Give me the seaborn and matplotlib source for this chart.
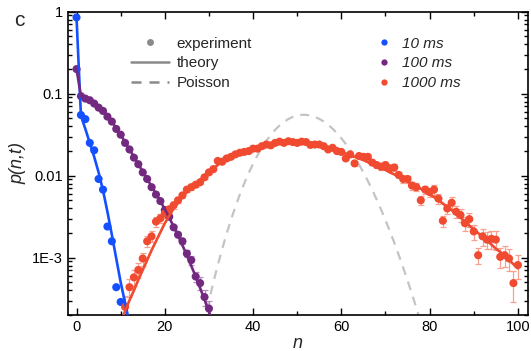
import matplotlib
matplotlib.use("Agg")
import matplotlib.pyplot as plt
import matplotlib.ticker as mticker
from matplotlib.lines import Line2D
import seaborn as sns
import numpy as np
import pandas as pd

# all values are log10 p(n,t)

# 10 ms
n_10 = list(range(0, 11))
exp_10 = [-0.07, -1.26, -1.31, -1.60, -1.69, -2.04, -2.17, -2.62, -2.80, -3.36, -3.54]
n_10_th = list(range(0, 13))
th_10 = [-0.07, -1.27, -1.43, -1.60, -1.77, -1.96, -2.18, -2.44, -2.72, -3.01, -3.30, -3.55, -3.80]

# 100 ms
n_100 = list(range(0, 31))
exp_100 = [-0.70, -1.03, -1.06, -1.08, -1.12, -1.17, -1.21, -1.28, -1.34, -1.43,
           -1.50, -1.60, -1.68, -1.78, -1.86, -1.96, -2.04, -2.14, -2.23, -2.31,
           -2.42, -2.50, -2.63, -2.72, -2.80, -2.95, -3.03, -3.23, -3.31, -3.48,
           -3.62]
err_100 = [0.02] * 20 + [0.03, 0.04, 0.05, 0.06, 0.08, 0.10, 0.12, 0.15, 0.18, 0.22, 0.25]
n_100_th = list(range(0, 32))
th_100 = [-0.70, -1.03, -1.05, -1.08, -1.12, -1.16, -1.21, -1.27, -1.34, -1.42,
          -1.50, -1.59, -1.68, -1.77, -1.86, -1.95, -2.04, -2.13, -2.22, -2.31,
          -2.41, -2.51, -2.62, -2.73, -2.85, -2.97, -3.10, -3.23, -3.37, -3.51,
          -3.66, -3.81]

# 1000 ms
n_1000 = list(range(11, 101))
exp_1000 = [-3.60, -3.36, -3.24, -3.15, -3.01, -2.80, -2.74, -2.56, -2.52, -2.46,
            -2.41, -2.36, -2.30, -2.24, -2.17, -2.14, -2.11, -2.08, -2.02, -1.96,
            -1.92, -1.82, -1.83, -1.79, -1.77, -1.74, -1.72, -1.71, -1.70, -1.67,
            -1.67, -1.64, -1.62, -1.63, -1.60, -1.585, -1.60, -1.58, -1.59, -1.60,
            -1.585, -1.59, -1.625, -1.62, -1.62, -1.64, -1.68, -1.66, -1.70, -1.71,
            -1.79, -1.74, -1.85, -1.76, -1.77, -1.77, -1.84, -1.87, -1.89, -1.87,
            -1.91, -1.90, -1.99, -2.04, -2.04, -2.12, -2.14, -2.30, -2.17, -2.20,
            -2.17, -2.28, -2.55, -2.40, -2.33, -2.44, -2.48, -2.58, -2.53, -2.68,
            -2.97, -2.74, -2.78, -2.77, -2.78, -2.99, -2.97, -3.01, -3.31, -3.09]
err_1000 = [0.35, 0.25, 0.22, 0.20, 0.18, 0.16, 0.15, 0.14, 0.12, 0.11,
            0.10, 0.09, 0.08, 0.08, 0.07, 0.07, 0.06, 0.06, 0.05, 0.05,
            0.05, 0.05, 0.04, 0.04, 0.04, 0.04, 0.04, 0.04, 0.04, 0.04,
            0.04, 0.04, 0.04, 0.04, 0.04, 0.04, 0.04, 0.04, 0.04, 0.04,
            0.04, 0.04, 0.04, 0.04, 0.04, 0.04, 0.05, 0.05, 0.05, 0.05,
            0.05, 0.06, 0.06, 0.06, 0.06, 0.07, 0.07, 0.07, 0.08, 0.08,
            0.08, 0.09, 0.09, 0.10, 0.10, 0.11, 0.11, 0.12, 0.12, 0.13,
            0.13, 0.14, 0.15, 0.15, 0.16, 0.17, 0.18, 0.19, 0.20, 0.21,
            0.22, 0.23, 0.24, 0.25, 0.26, 0.27, 0.28, 0.30, 0.42, 0.33]
n_1000_th = list(range(10, 101))
th_1000 = [-3.80, -3.65, -3.52, -3.40, -3.27, -3.15, -3.03, -2.91, -2.80, -2.69,
           -2.58, -2.49, -2.40, -2.33, -2.26, -2.20, -2.15, -2.10, -2.05, -2.00,
           -1.95, -1.91, -1.87, -1.83, -1.80, -1.77, -1.745, -1.72, -1.70, -1.685,
           -1.67, -1.655, -1.64, -1.63, -1.62, -1.61, -1.60, -1.595, -1.59, -1.59,
           -1.59, -1.595, -1.60, -1.61, -1.62, -1.63, -1.645, -1.66, -1.68, -1.695,
           -1.71, -1.73, -1.75, -1.77, -1.79, -1.81, -1.835, -1.86, -1.885, -1.91,
           -1.93, -1.96, -1.985, -2.01, -2.04, -2.07, -2.10, -2.13, -2.16, -2.19,
           -2.23, -2.26, -2.30, -2.34, -2.38, -2.42, -2.47, -2.51, -2.56, -2.61,
           -2.65, -2.70, -2.75, -2.79, -2.84, -2.89, -2.93, -2.98, -3.03, -3.08,
           -3.13]

# Poisson reference
n_poisson = list(range(28, 80))
poisson = [-4.019, -3.766, -3.527, -3.302, -3.091, -2.894, -2.709, -2.537, -2.378, -2.230,
           -2.094, -1.969, -1.855, -1.752, -1.659, -1.576, -1.504, -1.441, -1.388, -1.344,
           -1.309, -1.283, -1.266, -1.258, -1.258, -1.266, -1.283, -1.307, -1.339, -1.379,
           -1.426, -1.481, -1.544, -1.613, -1.689, -1.773, -1.863, -1.960, -2.063, -2.173,
           -2.290, -2.413, -2.542, -2.677, -2.818, -2.966, -3.119, -3.278, -3.443, -3.613,
           -3.789, -3.971]

labels = ['10 ms', '100 ms', '1000 ms']
colors = ['#1450ff', '#72297f', '#f04a30']
err_colors = ['#8fa8ff', '#b58cc0', '#f7a08f']

sns.set_style('ticks')
plt.rcParams['font.family'] = ['Liberation Sans', 'DejaVu Sans']

fig, ax = plt.subplots(figsize=(5.31, 3.51), dpi=100)
fig.subplots_adjust(left=0.1275, right=0.9944, bottom=0.1026, top=0.9667)

# Poisson (behind everything)
sns.lineplot(x=n_poisson, y=10 ** np.array(poisson), ax=ax, color='#c4c4c4',
             lw=1.6, dashes=False, zorder=1).lines[-1].set_dashes([4, 3.2])

series = [
    (n_10, exp_10, None, n_10_th, th_10),
    (n_100, exp_100, err_100, n_100_th, th_100),
    (n_1000, exp_1000, err_1000, n_1000_th, th_1000),
]
for (n, e, rel, nt, t), c, ec in zip(series, colors, err_colors):
    p = 10 ** np.array(e)
    if rel is not None:
        ax.errorbar(n, p, yerr=p * np.array(rel), fmt='none', ecolor=ec,
                    elinewidth=0.9, capsize=2.2, capthick=0.9, zorder=2)
    sns.scatterplot(x=n, y=p, ax=ax, color=c, s=34, edgecolor='none',
                    linewidth=0, zorder=3)
    sns.lineplot(x=nt, y=10 ** np.array(t), ax=ax, color=c, lw=1.9, zorder=4)

ax.set_yscale('log')
ax.set_ylim(2e-4, 1)
ax.set_xlim(-2, 102.3)
ax.set_xticks([0, 20, 40, 60, 80, 100])
ax.xaxis.set_minor_locator(mticker.MultipleLocator(10))
ax.set_yticks([1e-3, 1e-2, 1e-1, 1])
ax.set_yticklabels(['1E-3', '0.01', '0.1', '1'])
ax.yaxis.set_minor_locator(mticker.LogLocator(base=10, subs=np.arange(2, 10)))
ax.yaxis.set_minor_formatter(mticker.NullFormatter())
ax.tick_params(which='both', direction='in', top=True, right=True,
               labelsize=10.5, width=1.0, colors='black')
ax.tick_params(which='major', length=5)
ax.tick_params(which='minor', length=3)
for s in ax.spines.values():
    s.set_linewidth(1.2)
    s.set_color('black')

ax.set_xlabel('n', style='italic', fontsize=13, labelpad=1)
ax.set_ylabel('p(n,t)', style='italic', fontsize=13, labelpad=4)

# legend: kind of curve
kind_handles = [
    Line2D([], [], marker='o', ls='none', color='#8a8a8a', ms=5, mec='none'),
    Line2D([], [], color='#8a8a8a', lw=1.8),
    Line2D([], [], color='#8a8a8a', lw=1.8, dashes=[4, 3.2]),
]
leg1 = ax.legend(kind_handles, ['experiment', 'theory', 'Poisson'],
                 loc='upper left', bbox_to_anchor=(0.137, 0.918), frameon=False,
                 fontsize=11, handlelength=2.5, handletextpad=0.5,
                 labelspacing=0.38, borderpad=0, borderaxespad=0)
ax.add_artist(leg1)

# legend: exposure time
time_handles = [Line2D([], [], marker='o', ls='none', color=c, ms=4.5, mec='none')
                for c in colors]
leg2 = ax.legend(time_handles, labels, loc='upper left',
                 bbox_to_anchor=(0.674, 0.918), frameon=False,
                 handlelength=0.8, handletextpad=0.8, labelspacing=0.38,
                 borderpad=0, borderaxespad=0, prop={'style': 'italic', 'size': 11})

fig.text(19 / 531, 1 - 20.5 / 351, 'c', ha='center', va='center', fontsize=15)

fig.savefig('out.png', dpi=100)
